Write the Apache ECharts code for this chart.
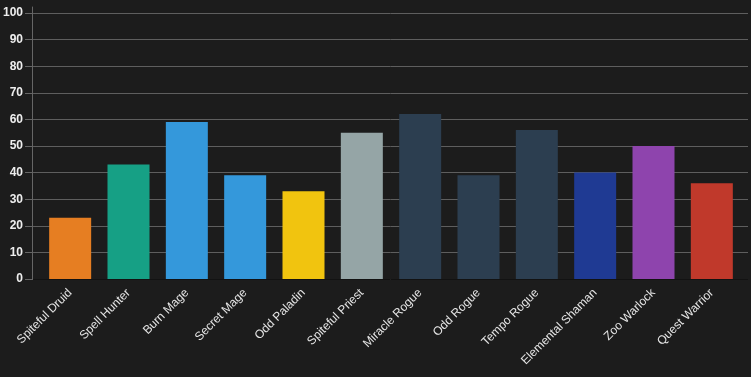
<!DOCTYPE html>
<html>
<head>
<meta charset="utf-8">
<script src="https://cdn.jsdelivr.net/npm/echarts@6/dist/echarts.min.js"></script>
<style>
  html, body { margin: 0; padding: 0; background: #1c1c1c; }
  #chart { width: 751px; height: 377px; }
</style>
</head>
<body>
<div id="chart"></div>
<script>
var decks = ['Spiteful Druid', 'Spell Hunter', 'Burn Mage', 'Secret Mage', 'Odd Paladin', 'Spiteful Priest',
             'Miracle Rogue', 'Odd Rogue', 'Tempo Rogue', 'Elemental Shaman', 'Zoo Warlock', 'Quest Warrior'];
var winrates = [23, 43, 59, 39, 33, 55, 62, 39, 56, 40, 50, 36];
var classColors = ['#e67e22', '#16a085', '#3498db', '#3498db', '#f1c40f', '#95a5a6',
                   '#2c3e50', '#2c3e50', '#2c3e50', '#1f3a93', '#8e44ad', '#c0392b'];
var yTicks = [0, 10, 20, 30, 40, 50, 60, 70, 80, 90, 100];

var chart = echarts.init(document.getElementById('chart'));

var labelFont = '"Liberation Sans", Arial, sans-serif';

option = {
    backgroundColor: '#1c1c1c',
    animation: false,
    grid: [
        // y labels + gridlines
        { left: 32, right: 3, top: 13, bottom: 98 },
        // bars
        { left: 41, right: 10, top: 13, bottom: 98 },
        // y axis line, runs a bit above the top gridline
        { left: 32, right: 3, top: 7, bottom: 98 }
    ],
    xAxis: [
        { type: 'category', gridIndex: 0, data: decks, show: false },
        {
            type: 'category',
            gridIndex: 1,
            data: decks,
            axisLine: { show: false },
            axisTick: { show: false },
            axisLabel: {
                rotate: 45,
                margin: 12,
                color: '#e6e6e6',
                fontSize: 12,
                fontFamily: labelFont,
                interval: 0
            }
        },
        { type: 'category', gridIndex: 2, data: decks, show: false }
    ],
    yAxis: [
        {
            type: 'value',
            gridIndex: 0,
            min: yTicks[0],
            max: yTicks[yTicks.length - 1],
            interval: 10,
            axisLine: { show: false },
            axisTick: { show: true, length: 8, lineStyle: { color: '#666666' } },
            axisLabel: {
                margin: 10,
                color: '#eeeeee',
                fontSize: 12,
                fontWeight: 'bold',
                fontFamily: labelFont
            },
            splitLine: { show: true, lineStyle: { color: '#5e5e5e' } }
        },
        {
            type: 'value',
            gridIndex: 1,
            min: yTicks[0],
            max: yTicks[yTicks.length - 1],
            show: false,
            splitLine: { show: false }
        },
        {
            type: 'value',
            gridIndex: 2,
            min: 0,
            max: 1,
            axisLine: { show: true, lineStyle: { color: '#666666' } },
            axisTick: { show: false },
            axisLabel: { show: false },
            splitLine: { show: false }
        }
    ],
    series: [
        {
            name: 'Winrate',
            type: 'bar',
            xAxisIndex: 1,
            yAxisIndex: 1,
            barWidth: 42,
            data: winrates.map(function (v, i) {
                return { value: v, itemStyle: { color: classColors[i] } };
            })
        },
        {
            // dark base line along zero
            type: 'line',
            xAxisIndex: 0,
            yAxisIndex: 0,
            data: [],
            markLine: {
                silent: true,
                symbol: 'none',
                label: { show: false },
                lineStyle: { color: '#121212', type: 'solid', width: 1 },
                data: [{ yAxis: 0 }]
            }
        }
    ]
};

chart.setOption(option);
</script>
</body>
</html>
